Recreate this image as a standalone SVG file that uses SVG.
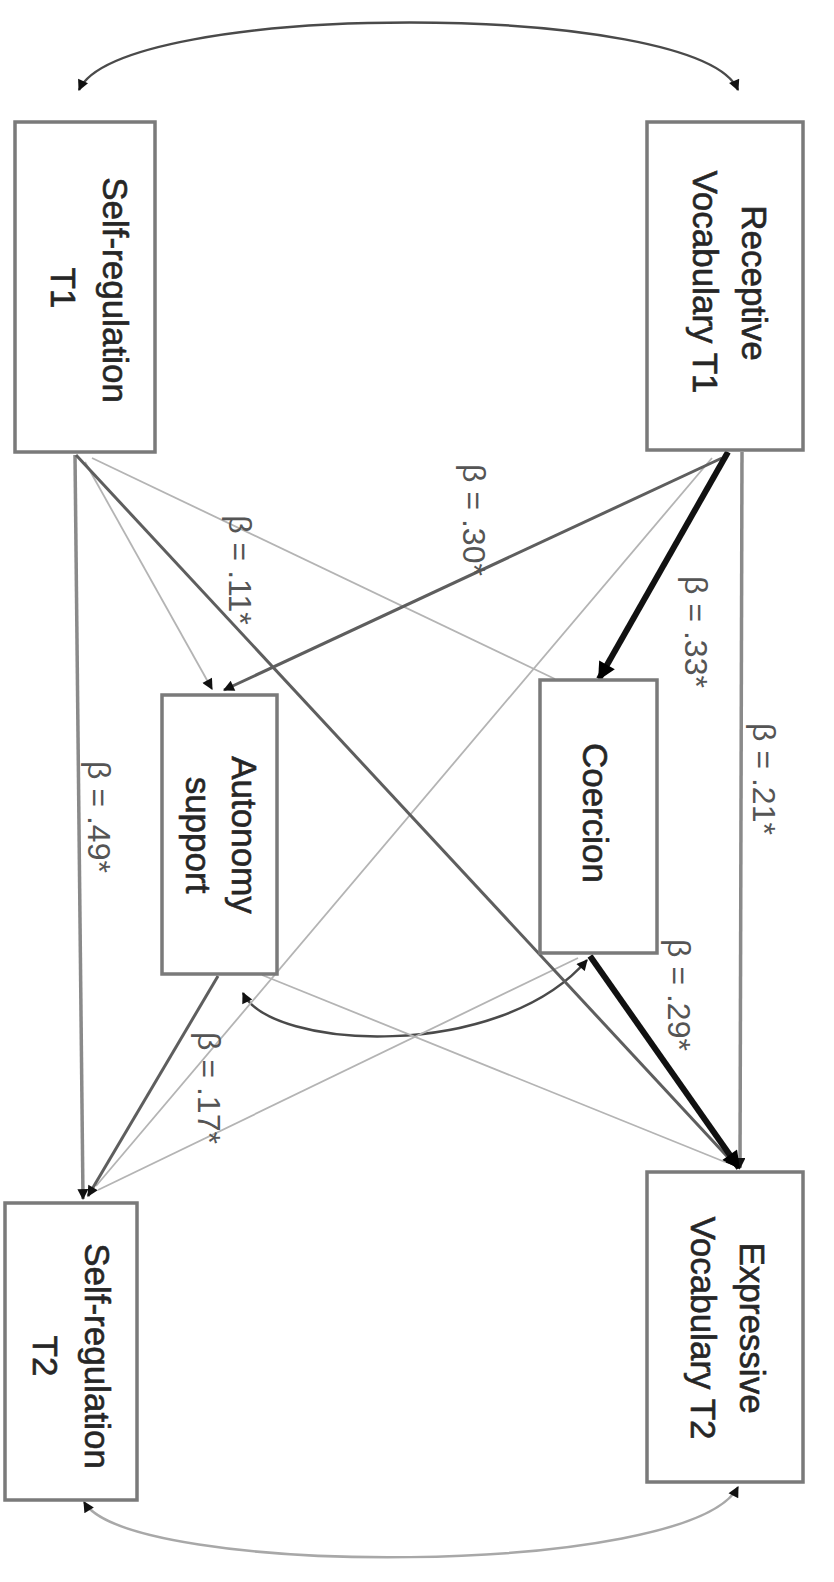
<svg xmlns="http://www.w3.org/2000/svg" width="834" height="1582" viewBox="0 0 834 1582">
  <style>
    .box { fill: #ffffff; stroke: #7a7a7a; stroke-width: 3.5; }
    .nt { font-family: "Liberation Sans", Arial, sans-serif; font-size: 35px; fill: #262626; stroke: #262626; stroke-width: 0.6; text-anchor: middle; }
    .lb { font-family: "Liberation Sans", Arial, sans-serif; font-size: 32px; fill: #555555; text-anchor: middle; }
    .c { fill: none; }
    .thick { stroke: #111111; stroke-width: 6; }
    .mid { stroke: #5e5e5e; stroke-width: 3; }
    .grey { stroke: #8a8a8a; stroke-width: 3.5; }
    .faint { stroke: #b4b4b4; stroke-width: 1.8; }
    .cov { stroke: #4a4a4a; stroke-width: 2.5; }
    .covl { stroke: #a8a8a8; stroke-width: 2.5; }
  </style>
  <defs>
    <marker id="ah" viewBox="0 0 10 10" refX="9" refY="5" markerWidth="13" markerHeight="11" markerUnits="userSpaceOnUse" orient="auto-start-reverse">
      <path d="M0,0 L10,5 L0,10 z" fill="#111111"/>
    </marker>
    <marker id="ahBig" viewBox="0 0 10 10" refX="9" refY="5" markerWidth="20" markerHeight="18" markerUnits="userSpaceOnUse" orient="auto-start-reverse">
      <path d="M0,0 L10,5 L0,10 z" fill="#000000"/>
    </marker>
  </defs>

  <rect width="834" height="1582" fill="#ffffff"/>

  <!-- connectors: regression paths and covariances -->
  <g id="connectors">
    <!-- covariance between T1 measures -->
    <path class="c cov" d="M 79 90 C 120 0, 700 0, 738 90" marker-start="url(#ah)" marker-end="url(#ah)"/>
    <!-- covariance between T2 measures -->
    <path class="c covl" d="M 84 1502 C 130 1578, 690 1578, 738 1487" marker-start="url(#ah)" marker-end="url(#ah)"/>
    <!-- covariance between parenting measures -->
    <path class="c cov" d="M 243 993 C 270 1050, 500 1062, 587 960" marker-start="url(#ah)" marker-end="url(#ah)"/>

    <!-- faint (non-significant) paths -->
    <line class="faint" x1="85" y1="462" x2="212" y2="689" marker-end="url(#ah)"/>
    <line class="faint" x1="92" y1="458" x2="555" y2="679"/>
    <line class="faint" x1="712" y1="458" x2="96" y2="1186"/>
    <line class="faint" x1="262" y1="975" x2="725" y2="1162"/>
    <line class="faint" x1="578" y1="958" x2="98" y2="1190"/>

    <!-- stability paths -->
    <line class="grey" x1="75" y1="455" x2="83" y2="1199" marker-end="url(#ah)"/>
    <line class="grey" x1="742" y1="452" x2="740" y2="1168" marker-end="url(#ah)"/>

    <!-- significant cross paths -->
    <line class="mid" x1="76" y1="455" x2="736" y2="1166" marker-end="url(#ah)"/>
    <line class="mid" x1="722" y1="458" x2="224" y2="690" marker-end="url(#ah)"/>
    <line class="mid" x1="218" y1="976" x2="88" y2="1196" marker-end="url(#ah)"/>
    <line class="thick" x1="728" y1="452" x2="599" y2="679" marker-end="url(#ahBig)"/>
    <line class="thick" x1="590" y1="956" x2="739" y2="1168" marker-end="url(#ahBig)"/>
  </g>

  <!-- path coefficients -->
  <g id="labels">
    <text class="lb" transform="translate(88,817) rotate(90)">β = .49*</text>
    <text class="lb" transform="translate(229,570) rotate(90)">β = .11*</text>
    <text class="lb" transform="translate(463,520) rotate(90)">β = .30*</text>
    <text class="lb" transform="translate(685,632) rotate(90)">β = .33*</text>
    <text class="lb" transform="translate(753,779) rotate(90)">β = .21*</text>
    <text class="lb" transform="translate(668,995) rotate(90)">β = .29*</text>
    <text class="lb" transform="translate(198,1088) rotate(90)">β = .17*</text>
  </g>

  <!-- nodes -->
  <g id="self-regulation-t1">
    <rect class="box" x="15" y="122" width="140" height="330"/>
    <text class="nt" transform="translate(103,290) rotate(90)">Self-regulation</text>
    <text class="nt" transform="translate(51,288) rotate(90)">T1</text>
  </g>
  <g id="receptive-vocabulary-t1">
    <rect class="box" x="647" y="122" width="156" height="328"/>
    <text class="nt" transform="translate(742,283) rotate(90)">Receptive</text>
    <text class="nt" transform="translate(693,282) rotate(90)">Vocabulary T1</text>
  </g>
  <g id="autonomy-support">
    <rect class="box" x="162" y="695" width="115" height="279"/>
    <text class="nt" transform="translate(232,835) rotate(90)">Autonomy</text>
    <text class="nt" transform="translate(186,835) rotate(90)">support</text>
  </g>
  <g id="coercion">
    <rect class="box" x="540" y="680" width="117" height="273"/>
    <text class="nt" transform="translate(583,813) rotate(90)">Coercion</text>
  </g>
  <g id="self-regulation-t2">
    <rect class="box" x="5" y="1203" width="132" height="297"/>
    <text class="nt" transform="translate(85,1356) rotate(90)">Self-regulation</text>
    <text class="nt" transform="translate(33,1356) rotate(90)">T2</text>
  </g>
  <g id="expressive-vocabulary-t2">
    <rect class="box" x="647" y="1172" width="156" height="310"/>
    <text class="nt" transform="translate(740,1328) rotate(90)">Expressive</text>
    <text class="nt" transform="translate(691,1328) rotate(90)">Vocabulary T2</text>
  </g>
</svg>
